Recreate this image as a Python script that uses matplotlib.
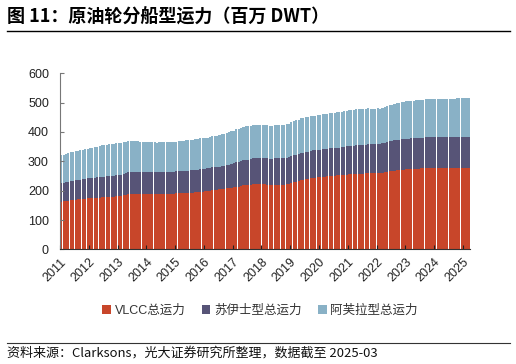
import numpy as np
import matplotlib
matplotlib.use("Agg")
import matplotlib.pyplot as plt
from matplotlib.patches import Patch
from matplotlib.lines import Line2D

plt.rcParams['font.family'] = ['Liberation Sans', 'Noto Sans CJK SC', 'DejaVu Sans']

# =============================================================================
#  Data (million DWT, monthly, 2011-01 .. 2025-03)
# =============================================================================

years = [str(y) for y in range(2011, 2026)]

vlcc = [
    163, 164, 165, 166, 167, 168, 169, 170, 171, 172, 173, 174,   # 2011
    174, 175, 175, 176, 176, 177, 177, 178, 179, 180, 180, 181,   # 2012
    182, 183, 184, 185, 187, 188, 189, 189, 189, 188, 188, 188,   # 2013
    188, 188, 188, 189, 189, 190, 190, 190, 190, 190, 190, 190,   # 2014
    191, 191, 191, 192, 192, 192, 193, 193, 194, 195, 196, 197,   # 2015
    198, 199, 200, 201, 202, 203, 204, 205, 206, 208, 209, 210,   # 2016
    211, 213, 214, 216, 218, 219, 220, 221, 222, 222, 223, 223,   # 2017
    223, 222, 220, 219, 219, 219, 219, 219, 220, 221, 222, 224,   # 2018
    227, 229, 231, 233, 235, 237, 239, 240, 242, 243, 244, 245,   # 2019
    246, 247, 248, 249, 250, 251, 251, 252, 252, 253, 254, 255,   # 2020
    256, 256, 257, 257, 258, 258, 258, 259, 259, 259, 259, 259,   # 2021
    260, 260, 261, 263, 265, 266, 267, 268, 269, 270, 271, 272,   # 2022
    273, 273, 274, 274, 275, 275, 276, 276, 277, 277, 277, 277,   # 2023
    277, 277, 277, 277, 277, 277, 277, 277, 277, 277, 278, 278,   # 2024
    278, 278, 278,                                                # 2025
]

suezmax = [
    62, 63, 63, 64, 65, 65, 66, 66, 67, 67, 68, 68,
    68, 69, 69, 69, 70, 70, 70, 71, 71, 71, 71, 72,
    72, 72, 73, 74, 75, 76, 76, 76, 76, 76, 76, 76,
    76, 76, 76, 75, 75, 75, 75, 75, 75, 75, 75, 75,
    75, 75, 76, 76, 76, 76, 76, 77, 77, 77, 77, 77,
    77, 77, 77, 78, 78, 78, 78, 79, 79, 79, 80, 81,
    82, 83, 83, 84, 85, 86, 86, 87, 88, 88, 89, 89,
    89, 89, 90, 90, 90, 91, 91, 91, 91, 91, 91, 91,
    91, 92, 92, 92, 93, 93, 93, 93, 94, 94, 94, 94,
    94, 94, 94, 94, 94, 94, 95, 95, 95, 95, 96, 96,
    96, 96, 96, 97, 97, 98, 98, 98, 99, 99, 99, 100,
    100, 100, 101, 101, 101, 102, 102, 103, 103, 103, 104, 104,
    104, 104, 104, 104, 105, 105, 105, 105, 105, 105, 105, 105,
    105, 105, 105, 105, 105, 105, 105, 105, 105, 105, 104, 104,
    104, 104, 104,
]

aframax = [
    95, 96, 97, 98, 99, 99, 100, 100, 100, 101, 101, 101,
    102, 103, 104, 105, 106, 107, 108, 108, 109, 109, 109, 109,
    109, 109, 108, 107, 106, 105, 104, 103, 103, 102, 102, 101,
    101, 101, 101, 101, 100, 100, 100, 100, 100, 100, 101, 101,
    101, 102, 102, 102, 103, 103, 104, 104, 105, 105, 105, 105,
    105, 105, 105, 106, 106, 107, 107, 108, 108, 109, 110, 111,
    112, 113, 113, 114, 114, 114, 114, 114, 114, 113, 113, 113,
    113, 113, 113, 113, 113, 113, 113, 113, 113, 113, 113, 113,
    116, 117, 117, 117, 118, 118, 118, 118, 118, 118, 118, 119,
    119, 119, 119, 119, 120, 120, 120, 120, 121, 121, 121, 122,
    122, 123, 123, 123, 123, 123, 123, 123, 123, 122, 122, 121,
    121, 120, 120, 121, 122, 123, 124, 125, 126, 126, 126, 127,
    127, 127, 127, 128, 128, 128, 129, 129, 129, 129, 129, 129,
    130, 130, 130, 130, 131, 131, 131, 132, 132, 133, 133, 133,
    133, 134, 134,
]

labels = ['VLCC总运力', '苏伊士型总运力', '阿芙拉型总运力']
colors = ['#C8462A', '#575477', '#89B1C6']

# =============================================================================
#  Plot
# =============================================================================

fig = plt.figure(figsize=(5.16, 3.64), dpi=100)
ax = fig.add_axes([0.1163, 0.315, 0.7947, 0.4836])

vlcc_a = np.array(vlcc)
suez_a = np.array(suezmax)
afra_a = np.array(aframax)
x = np.arange(len(vlcc_a))

ax.bar(x, vlcc_a, width=0.88, color=colors[0], linewidth=0)
ax.bar(x, suez_a, width=0.88, bottom=vlcc_a, color=colors[1], linewidth=0)
ax.bar(x, afra_a, width=0.88, bottom=vlcc_a + suez_a, color=colors[2], linewidth=0)

ax.set_xlim(-0.5, len(x) - 0.5)
ax.set_ylim(0, 600)
ax.set_yticks(range(0, 601, 100))
ax.tick_params(axis='y', direction='in', length=3, labelsize=9, colors='#222222',
               pad=8)
ax.tick_params(axis='y', color='#777777')

ax.set_xticks([-0.5 + 12 * i for i in range(len(years))])
ax.set_xticklabels(years, rotation=45, ha='right', va='top',
                   rotation_mode='anchor', fontsize=9, color='#222222')
ax.tick_params(axis='x', direction='in', length=3, color='#222222', pad=5)

for s in ['top', 'right']:
    ax.spines[s].set_visible(False)
ax.spines['left'].set_color('#777777')
ax.spines['bottom'].set_color('#333333')

handles = [Patch(facecolor=c, edgecolor='none') for c in colors]
fig.legend(handles, labels, loc='center', bbox_to_anchor=(0.504, 0.146),
           ncol=3, frameon=False, fontsize=9, handlelength=0.7,
           handleheight=0.7, handletextpad=0.3, columnspacing=1.3,
           labelcolor='#333333')

fig.text(0.0136, 0.953, '图 11：原油轮分船型运力（百万 DWT）',
         fontsize=13, fontweight='bold', ha='left', va='center',
         family=['Noto Sans CJK SC', 'DejaVu Sans'])
fig.add_artist(Line2D([0.0136, 0.988], [0.915, 0.915], color='black', lw=1.0))
fig.add_artist(Line2D([0.0136, 0.988], [0.0577, 0.0577], color='#333333', lw=0.8))
fig.text(0.0136, 0.031, '资料来源：Clarksons，光大证券研究所整理，数据截至 2025-03',
         fontsize=9.4, ha='left', va='center', color='#111111',
         family=['Noto Sans CJK SC', 'DejaVu Sans'])

fig.savefig('out.png', dpi=100)
